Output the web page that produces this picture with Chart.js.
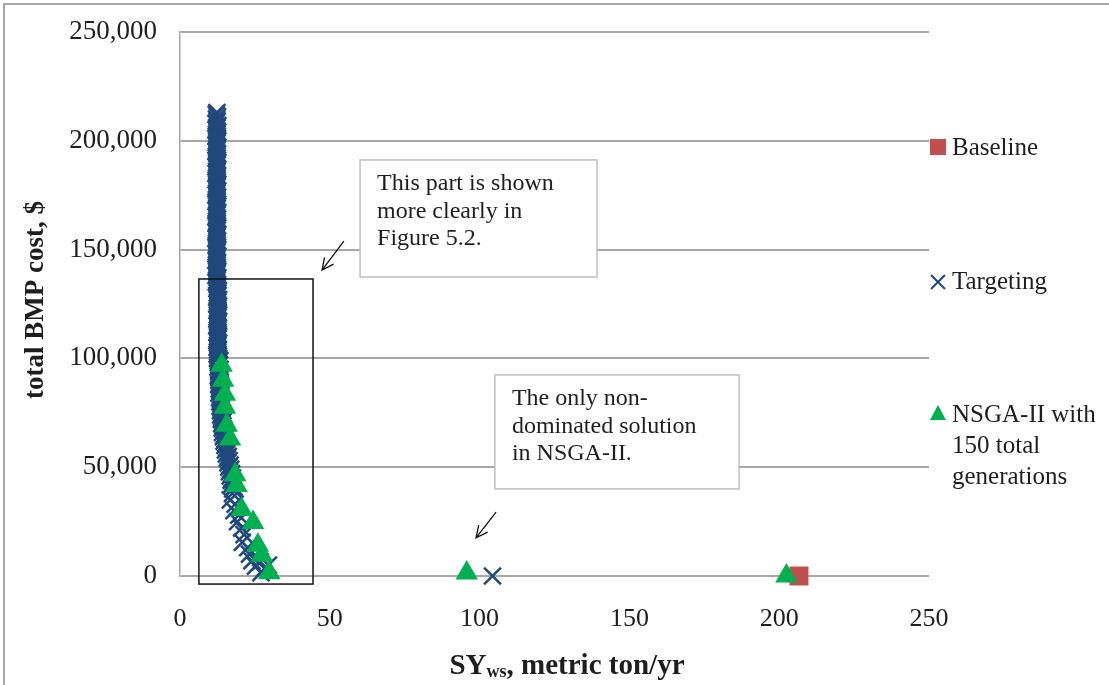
<!DOCTYPE html>
<html>
<head>
<meta charset="utf-8">
<title>BMP cost vs sediment yield</title>
<script src="https://cdn.jsdelivr.net/npm/chart.js@4/dist/chart.umd.min.js"></script>
<style>
html, body { margin:0; padding:0; background:#fff; }
#wrap { position:relative; width:1109px; height:685px; }
#frame { position:absolute; left:3px; top:3px; right:0; bottom:0; border-top:2px solid #a6a6a6; border-left:2px solid #a6a6a6; pointer-events:none; }
</style>
</head>
<body>
<div id="wrap">
	<canvas id="bmpChart" width="1109" height="685"></canvas>
	<div id="frame"></div>
</div>
<script>

// Series names. 
const seriesNames = ['Baseline', 'Targeting', 'NSGA-II with 150 total generations'];

// Baseline scenario: sediment yield (metric ton/yr) and cost ($). 
const baselineSY = [206.6];
const baselineCost = [0];

// Targeting solutions (dense column first, then the lower tail). 
const targetSY = [
	12.3, 12.1, 12.5, 12.2, 12.4, 12.0, 12.6, 12.3, 12.1, 12.4,
	12.3, 12.1, 12.5, 12.2, 12.4, 12.0, 12.6, 12.3, 12.1, 12.4,
	12.3, 12.1, 12.5, 12.2, 12.4, 12.0, 12.6, 12.3, 12.1, 12.4,
	12.3, 12.1, 12.5, 12.2, 12.4, 12.0, 12.6, 12.3, 12.1, 12.4,
	12.3, 12.1, 12.5, 12.2, 12.4, 12.0, 12.6, 12.3, 12.1, 12.4,
	12.3, 12.1, 12.5, 12.2, 12.4, 12.0, 12.6, 12.3, 12.1, 12.4,
	12.3, 12.1, 12.5, 12.2, 12.4, 12.0, 12.6, 12.3, 12.1, 12.4,
	12.3, 12.1, 12.5, 12.2, 12.4, 12.0, 12.6, 12.3, 12.1, 12.4,
	12.6, 12.4, 12.8, 12.5, 12.7, 12.3, 12.9, 12.6, 12.4, 12.7,
	12.6, 12.4, 12.8, 12.5, 12.7, 12.3, 12.9, 12.6, 12.4, 12.7,
	12.6, 12.4, 12.8, 12.5, 12.7, 12.3, 12.9, 12.6, 12.4, 12.7,
	12.6, 12.4, 12.8, 12.5,
	13.3, 12.8, 13.2, 12.7, 13.4, 12.9, 13.1, 12.8, 13.5, 13.0,
	13.4, 12.9, 13.6, 13.1, 13.5, 13.0, 13.7, 13.2, 13.6, 13.3,
	13.9, 13.4, 13.8, 13.5, 14.1, 13.6, 14.0, 13.8, 14.4, 13.9,
	14.3, 14.1, 14.7, 14.2, 14.8, 14.5, 15.1, 14.7, 15.3, 15.0,
	15.6, 15.2, 15.9, 15.5, 16.1, 15.8, 16.4, 16.0, 16.7, 16.3,
	16.9, 16.5, 17.2, 16.8, 17.5, 17.1, 17.7, 17.3, 18.0, 17.6,
	17.5, 16.8, 18.4, 18.0, 19.6, 19.2, 20.6, 21.4, 20.8, 22.6,
	23.2, 24.0, 25.2, 26.8, 28.2, 27.0, 29.5,
	104.3
];
const targetCost = [
	213000, 212000, 211000, 210000, 209000, 208000, 207000, 206000, 205000, 204000,
	203000, 202000, 201000, 200000, 199000, 198000, 197000, 196000, 195000, 194000,
	193000, 192000, 191000, 190000, 189000, 188000, 187000, 186000, 185000, 184000,
	183000, 182000, 181000, 180000, 179000, 178000, 177000, 176000, 175000, 174000,
	173000, 172000, 171000, 170000, 169000, 168000, 167000, 166000, 165000, 164000,
	163000, 162000, 161000, 160000, 159000, 158000, 157000, 156000, 155000, 154000,
	153000, 152000, 151000, 150000, 149000, 148000, 147000, 146000, 145000, 144000,
	143000, 142000, 141000, 140000, 139000, 138000, 137000, 136000, 135000, 134000,
	133000, 132000, 131000, 130000, 129000, 128000, 127000, 126000, 125000, 124000,
	123000, 122000, 121000, 120000, 119000, 118000, 117000, 116000, 115000, 114000,
	113000, 112000, 111000, 110000, 109000, 108000, 107000, 106000, 105000, 104000,
	103000, 102000, 101000, 100000,
	99000, 98000, 97000, 96000, 95000, 94000, 93000, 92000, 91000, 90000,
	89000, 88000, 87000, 86000, 85000, 84000, 83000, 82000, 81000, 80000,
	79000, 78000, 77000, 76000, 75000, 74000, 73000, 72000, 71000, 70000,
	69000, 68000, 67000, 66000, 65000, 64000, 63000, 62000, 61000, 60000,
	59000, 58000, 57000, 56000, 55000, 54000, 53000, 52000, 51000, 50000,
	49000, 48000, 47000, 46000, 45000, 44000, 43000, 42000, 41000, 40000,
	38000, 35000, 33000, 30000, 28000, 25000, 22000, 19000, 15500, 13000,
	10000, 7000, 4500, 6500, 3500, 1500, 5000,
	0
];

// NSGA-II solutions after 150 generations. 
const nsgaSY = [13.9, 14.4, 15.0, 15.0, 15.6, 16.7, 18.4, 18.9, 20.6, 24.4, 26.0, 27.3, 29.8, 95.7, 202.4];
const nsgaCost = [96800, 90000, 83500, 77500, 69300, 63000, 46500, 41600, 30600, 24600, 14100, 9500, 1500, 1400, 0];

// Axis ticks. 
const xTicks = [0, 50, 100, 150, 200, 250];
const yTicks = [0, 50000, 100000, 150000, 200000, 250000];

// Series colours. 
const red = '#C0504D';
const blue = '#1F497D';
const green = '#00B050';

const serif = '"Liberation Serif", "Times New Roman", serif';
const textColor = '#1e1e1e';

// Callout boxes and arrows, placed in data units. 
const notes = [
	{ lines:['This part is shown', 'more clearly in', 'Figure 5.2.'], x0:60.1, x1:139.2, y0:191200, y1:137400, arrow:[54.7, 153900, 47.4, 140600] },
	{ lines:['The only non-', 'dominated solution', 'in NSGA-II.'], x0:105.1, x1:186.6, y0:92400, y1:40000, arrow:[105.5, 29400, 98.8, 17500] }
];

// Frame round the low-cost part of the front. 
const zoomBox = { x0:6.3, x1:44.4, y0:136500, y1:-3700 };


function toPoints(xs, ys) {
	return xs.map((x, i) => ({ x:x, y:ys[i] }));
}


/*****/


// Draws the frame, callouts, axis titles and the side legend. 
const decorations = {
	id:'decorations',
	afterDatasetsDraw(chart) {
		const ctx = chart.ctx;
		const sx = chart.scales.x;
		const sy = chart.scales.y;

		ctx.save();

		// Black frame. 
		ctx.strokeStyle = '#111';
		ctx.lineWidth = 1.5;
		const bx0 = sx.getPixelForValue(zoomBox.x0), bx1 = sx.getPixelForValue(zoomBox.x1);
		const by0 = sy.getPixelForValue(zoomBox.y0), by1 = sy.getPixelForValue(zoomBox.y1);
		ctx.strokeRect(bx0, by0, bx1 - bx0, by1 - by0);

		// Callouts. 
		notes.forEach(n => {
			const x0 = sx.getPixelForValue(n.x0), x1 = sx.getPixelForValue(n.x1);
			const y0 = sy.getPixelForValue(n.y0), y1 = sy.getPixelForValue(n.y1);
			ctx.fillStyle = '#fff';
			ctx.fillRect(x0, y0, x1 - x0, y1 - y0);
			ctx.strokeStyle = '#bfbfbf';
			ctx.lineWidth = 1.5;
			ctx.strokeRect(x0, y0, x1 - x0, y1 - y0);

			ctx.fillStyle = textColor;
			ctx.font = '24px ' + serif;
			ctx.textAlign = 'left';
			ctx.textBaseline = 'middle';
			n.lines.forEach((t, i) => ctx.fillText(t, x0 + 17, y0 + 24 + i * 27.5));

			// Arrow. 
			const ax0 = sx.getPixelForValue(n.arrow[0]), ay0 = sy.getPixelForValue(n.arrow[1]);
			const ax1 = sx.getPixelForValue(n.arrow[2]), ay1 = sy.getPixelForValue(n.arrow[3]);
			const ang = Math.atan2(ay1 - ay0, ax1 - ax0);
			ctx.strokeStyle = '#111';
			ctx.lineWidth = 1.3;
			ctx.beginPath();
			ctx.moveTo(ax0, ay0);
			ctx.lineTo(ax1, ay1);
			ctx.moveTo(ax1 - 13 * Math.cos(ang - 0.45), ay1 - 13 * Math.sin(ang - 0.45));
			ctx.lineTo(ax1, ay1);
			ctx.lineTo(ax1 - 13 * Math.cos(ang + 0.45), ay1 - 13 * Math.sin(ang + 0.45));
			ctx.stroke();
		});

		ctx.restore();
	},
	afterDraw(chart) {
		const ctx = chart.ctx;
		const area = chart.chartArea;
		ctx.save();
		ctx.fillStyle = textColor;

		// Y axis title. 
		ctx.font = 'bold 27px ' + serif;
		ctx.textAlign = 'center';
		ctx.textBaseline = 'middle';
		ctx.translate(36, 300);
		ctx.rotate(-Math.PI / 2);
		ctx.fillText('total BMP cost, $', 0, 0);
		ctx.setTransform(1, 0, 0, 1, 0, 0);

		// X axis title with subscript. 
		const big = 'bold 29px ' + serif;
		const small = 'bold 18px ' + serif;
		ctx.textAlign = 'left';
		ctx.textBaseline = 'alphabetic';
		ctx.font = big;
		const w1 = ctx.measureText('SY').width;
		const w3 = ctx.measureText(', metric ton/yr').width;
		ctx.font = small;
		const w2 = ctx.measureText('ws').width;
		let tx = 567 - (w1 + w2 + w3) / 2;
		const ty = 674;
		ctx.font = big;
		ctx.fillText('SY', tx, ty);
		tx += w1;
		ctx.font = small;
		ctx.fillText('ws', tx, ty + 3);
		tx += w2;
		ctx.font = big;
		ctx.fillText(', metric ton/yr', tx, ty);

		// Legend. 
		const lx = area.right + 9;
		ctx.font = '25px ' + serif;
		ctx.textBaseline = 'middle';

		ctx.fillStyle = red;
		ctx.fillRect(lx - 8, 139, 16, 16);
		ctx.fillStyle = textColor;
		ctx.fillText(seriesNames[0], lx + 14, 148);

		ctx.strokeStyle = blue;
		ctx.lineWidth = 2;
		ctx.beginPath();
		ctx.moveTo(lx - 7, 275); ctx.lineTo(lx + 7, 289);
		ctx.moveTo(lx + 7, 275); ctx.lineTo(lx - 7, 289);
		ctx.stroke();
		ctx.fillText(seriesNames[1], lx + 14, 282);

		ctx.fillStyle = green;
		ctx.beginPath();
		ctx.moveTo(lx, 405); ctx.lineTo(lx + 8, 420); ctx.lineTo(lx - 8, 420);
		ctx.closePath();
		ctx.fill();
		ctx.fillStyle = textColor;
		['NSGA-II with', '150 total', 'generations'].forEach((t, i) => ctx.fillText(t, lx + 14, 415 + i * 31));

		ctx.restore();
	}
};


const chart = {
	type:'scatter',
	data:{
		datasets:[
			{
				label:seriesNames[0],
				data:toPoints(baselineSY, baselineCost),
				pointStyle:'rect',
				pointRadius:13.4,
				backgroundColor:red,
				borderColor:red,
				borderWidth:0,
				clip:false,
				order:3
			},
			{
				label:seriesNames[1],
				data:toPoints(targetSY, targetCost),
				pointStyle:'crossRot',
				pointRadius:12,
				backgroundColor:blue,
				borderColor:blue,
				borderWidth:2.5,
				clip:false,
				order:2
			},
			{
				label:seriesNames[2],
				data:toPoints(nsgaSY, nsgaCost),
				pointStyle:'triangle',
				pointRadius:13,
				backgroundColor:green,
				borderColor:green,
				borderWidth:0,
				clip:false,
				order:1
			}
		]
	},
	options:{
		responsive:false,
		animation:false,
		events:[],
		layout:{ padding:{ top:32, right:180, bottom:0, left:0 } },
		plugins:{
			legend:{ display:false },
			tooltip:{ enabled:false }
		},
		scales:{
			x:{
				type:'linear',
				min:0,
				max:250,
				afterBuildTicks:(s) => { s.ticks = xTicks.map(v => ({ value:v })); },
				afterFit:(s) => { s.height = 109; s.paddingLeft = 0; s.paddingRight = 0; },
				grid:{ display:false },
				border:{ display:false },
				ticks:{ padding:20, color:textColor, font:{ family:serif, size:26 } }
			},
			y:{
				type:'linear',
				min:0,
				max:250000,
				afterBuildTicks:(s) => { s.ticks = yTicks.map(v => ({ value:v })); },
				afterFit:(s) => { s.width = 180; s.paddingTop = 0; s.paddingBottom = 0; },
				grid:{ color:'#a6a6a6', lineWidth:2, drawTicks:false },
				border:{ display:true, color:'#a6a6a6', width:1.5 },
				ticks:{
					padding:23,
					color:textColor,
					font:{ family:serif, size:27 },
					callback:(v) => v.toLocaleString('en-US')
				}
			}
		}
	},
	plugins:[decorations]
};

new Chart(document.getElementById('bmpChart').getContext('2d'), chart);
</script>
</body>
</html>
